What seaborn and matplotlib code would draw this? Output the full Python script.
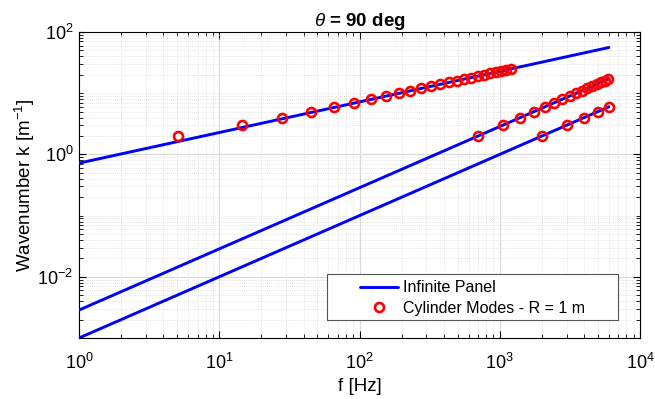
import numpy as np
import pandas as pd
import matplotlib
matplotlib.use("Agg")
import matplotlib.pyplot as plt
from matplotlib.patches import Rectangle
from matplotlib.lines import Line2D
from matplotlib.ticker import LogLocator, NullFormatter, FixedLocator
import seaborn as sns

# ---- data ----
# Infinite panel branches (straight lines on log-log: endpoints)
panel_f = [1.0, 6000.0]
panel_bend_k = [0.72, 55.8]      # flexural branch
panel_mid_k = [0.00286, 17.1]    # middle branch
panel_low_k = [0.001, 6.0]       # lowest branch

# Cylinder modes (R = 1 m)
cyl_bend_f = [5.1, 14.6, 28, 45.3, 66, 91.4, 120, 154, 190, 229, 273, 323,
              377, 435, 493, 556, 623, 696, 772, 852, 935, 1020, 1113, 1209]
cyl_bend_k = [2, 3, 4, 5, 6, 7, 8, 9, 10, 11, 12, 13, 14, 15, 16, 17, 18,
              19, 20, 21, 22, 23, 24, 25]
cyl_mid_f = [700, 1050, 1400, 1750, 2100, 2450, 2800, 3150, 3500, 3850,
             4200, 4550, 4900, 5250, 5600, 5950]
cyl_mid_k = [2, 3, 4, 5, 6, 7, 8, 9, 10, 11, 12, 13, 14, 15, 16, 17]
cyl_low_f = [2000, 3000, 4000, 5000, 6000]
cyl_low_k = [2, 3, 4, 5, 6]

y_major_ticks = [1e-2, 1e0, 1e2]
title = r"$\theta$ = 90 deg"
xlabel = "f [Hz]"
ylabel = r"Wavenumber k [m$^{-1}$]"
legend_labels = ["Infinite Panel", "Cylinder Modes - R = 1 m"]

# ---- style ----
sns.set_theme(style="white")
plt.rcParams["font.family"] = ["Liberation Sans", "DejaVu Sans"]
plt.rcParams["mathtext.fontset"] = "custom"
plt.rcParams["mathtext.rm"] = "Liberation Sans"
plt.rcParams["mathtext.it"] = "Liberation Sans:italic"
plt.rcParams["mathtext.bf"] = "Liberation Sans:bold"
for key in ("text.color", "axes.labelcolor", "xtick.color", "ytick.color"):
    plt.rcParams[key] = "black"

fig = plt.figure(figsize=(6.55, 3.99), dpi=100)
ax = fig.add_axes([79 / 655, 1 - 338 / 399, 561 / 655, 306 / 399])

blue = (0, 0, 1)
red = (1, 0, 0)

for ks in (panel_bend_k, panel_mid_k, panel_low_k):
    df = pd.DataFrame({"f": panel_f, "k": ks})
    sns.lineplot(data=df, x="f", y="k", ax=ax, color=blue, linewidth=2.1,
                 zorder=3, legend=False)

for fs, ks in ((cyl_bend_f, cyl_bend_k), (cyl_mid_f, cyl_mid_k),
               (cyl_low_f, cyl_low_k)):
    df = pd.DataFrame({"f": fs, "k": ks})
    sns.lineplot(data=df, x="f", y="k", ax=ax, linestyle="", marker="o",
                 markersize=6.5, markerfacecolor="none", markeredgecolor=red,
                 markeredgewidth=1.9, color=red, zorder=4, legend=False)

ax.set_xscale("log")
ax.set_yscale("log")
ax.set_xlim(1, 1e4)
ax.set_ylim(1e-3, 1e2)

ax.xaxis.set_major_locator(LogLocator(base=10, numticks=10))
ax.yaxis.set_major_locator(FixedLocator(y_major_ticks))
ax.xaxis.set_minor_locator(LogLocator(base=10, subs=np.arange(2, 10), numticks=20))
ax.yaxis.set_minor_locator(LogLocator(base=10, subs=np.arange(1, 10), numticks=20))
ax.xaxis.set_minor_formatter(NullFormatter())
ax.yaxis.set_minor_formatter(NullFormatter())

ax.grid(True, which="major", color="#d9d9d9", linewidth=0.8, linestyle="-", zorder=0)
ax.grid(True, which="minor", color="#dcdcdc", linewidth=0.6, linestyle=(0, (1, 1.5)), zorder=0)
ax.set_axisbelow(True)

ax.tick_params(which="both", direction="in", top=True, right=True,
               bottom=True, left=True, colors="black", labelsize=13)
ax.tick_params(which="major", length=5, width=0.8)
ax.tick_params(axis="x", which="major", pad=11)
ax.tick_params(axis="y", which="major", pad=4)
ax.tick_params(which="minor", length=3, width=0.6)
for s in ax.spines.values():
    s.set_color("black")
    s.set_linewidth(0.8)

ax.set_xlabel(xlabel, fontsize=13.5, labelpad=3)
ax.set_ylabel(ylabel, fontsize=13.5, labelpad=0)
ax.set_title(title, fontsize=13.5, fontweight="bold", pad=3)

# legend frame (MATLAB-like wide box)
x0 = (326.7 - 79) / 561
x1 = (617.7 - 79) / 561
y0 = (338 - 320) / 306
y1 = (338 - 274.3) / 306
ax.add_patch(Rectangle((x0, y0), x1 - x0, y1 - y0, transform=ax.transAxes,
                       facecolor="white", edgecolor="#555555", linewidth=0.8,
                       zorder=6))
handles = [Line2D([], [], color=blue, linewidth=2.1),
           Line2D([], [], linestyle="", marker="o", markersize=6.5,
                  markerfacecolor="none", markeredgecolor=red,
                  markeredgewidth=1.9)]
leg = ax.legend(handles, legend_labels, loc="center left",
                bbox_to_anchor=((360 - 79) / 561, (338 - 298) / 306),
                frameon=False, fontsize=11.5, handlelength=2.4,
                handletextpad=0.3, labelspacing=0.35, borderpad=0,
                borderaxespad=0)
leg.set_zorder(7)

fig.savefig("out.png", dpi=100)
